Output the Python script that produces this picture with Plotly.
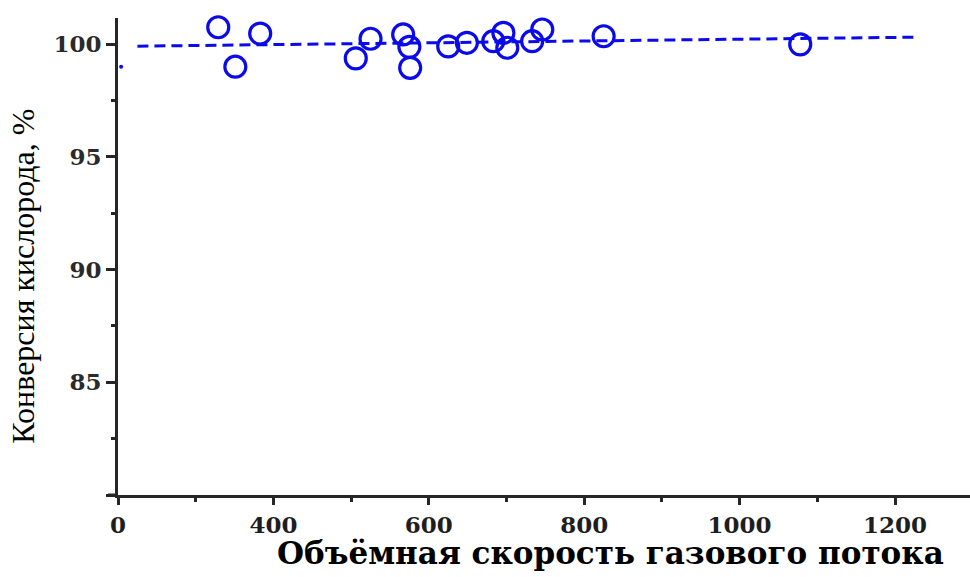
import plotly.graph_objects as go

# Measured oxygen conversion vs. gas hourly space velocity
flow_rate = [329, 351, 383, 506, 525, 567, 575, 576, 625, 649, 683, 696, 701, 733, 746, 825, 1078]
conversion = [100.75, 99.0, 100.47, 99.37, 100.24, 100.43, 99.88, 98.95, 99.9, 100.06,
              100.13, 100.5, 99.84, 100.13, 100.65, 100.35, 99.99]

# Linear trend through the data
fit_x = [225, 1226]
fit_y = [99.91, 100.31]

# Stray point sitting on the left axis
edge_x = [204]
edge_y = [99.0]

x_tick_vals = [200, 400, 600, 800, 1000, 1200]
x_tick_text = ["0", "400", "600", "800", "1000", "1200"]
x_minor_vals = [300, 500, 700, 900, 1100]
y_tick_vals = [80, 85, 90, 95, 100]
y_tick_text = ["", "85", "90", "95", "100"]
y_minor_vals = [82.5, 87.5, 92.5, 97.5]

blue = "#0a0aeb"
axis_col = "#262626"
wide_serif = '"DejaVu Serif", serif'
narrow_serif = '"Liberation Serif", serif'

fig = go.Figure()
fig.add_trace(go.Scatter(
    x=fit_x, y=fit_y, mode="lines",
    line=dict(color=blue, width=3, dash="11px,6px"),
    showlegend=False, hoverinfo="skip",
))
fig.add_trace(go.Scatter(
    x=edge_x, y=edge_y, mode="markers",
    marker=dict(color=blue, size=4),
    showlegend=False, cliponaxis=False,
))
fig.add_trace(go.Scatter(
    x=flow_rate, y=conversion, mode="markers",
    marker=dict(symbol="circle-open", size=21, color=blue, line=dict(color=blue, width=3.2)),
    showlegend=False, cliponaxis=False,
))

fig.update_layout(
    width=970, height=577,
    margin=dict(l=117.5, r=0, t=18, b=82),
    paper_bgcolor="white", plot_bgcolor="white",
    xaxis=dict(
        range=[200, 1296.5], showgrid=False, zeroline=False,
        showline=True, linecolor=axis_col, linewidth=3,
        tickmode="array", tickvals=x_tick_vals, ticktext=x_tick_text,
        ticks="outside", ticklen=7, tickwidth=3, tickcolor=axis_col,
        tickfont=dict(family=wide_serif, size=23, color="#1e1e1e", weight="bold"),
        minor=dict(tickvals=x_minor_vals, ticks="outside", ticklen=4, tickwidth=3, tickcolor=axis_col),
    ),
    yaxis=dict(
        range=[80, 101.16], showgrid=False, zeroline=False,
        showline=True, linecolor=axis_col, linewidth=3,
        tickmode="array", tickvals=y_tick_vals, ticktext=y_tick_text,
        ticks="outside", ticklen=9, tickwidth=3, tickcolor=axis_col,
        tickfont=dict(family=wide_serif, size=23, color="#2a2a2a", weight="bold"),
        minor=dict(tickvals=y_minor_vals, ticks="outside", ticklen=4, tickwidth=3, tickcolor=axis_col),
    ),
)

# Axis titles
fig.add_annotation(
    text="Объёмная скорость газового потока",
    xref="paper", yref="paper", x=0.578, y=-0.1216,
    xanchor="center", yanchor="middle", showarrow=False,
    font=dict(family=wide_serif, size=31, color="black", weight="bold"),
)
fig.add_annotation(
    text="Конверсия кислорода, %",
    xref="paper", yref="paper", x=-0.112, y=0.459, textangle=-90,
    xanchor="center", yanchor="middle", showarrow=False,
    font=dict(family=narrow_serif, size=32, color="black"),
)

# Short overhang of the horizontal axis to the left of the origin
fig.add_shape(type="line", xref="paper", yref="paper",
              x0=-0.0117, x1=0, y0=0, y1=0,
              line=dict(color=axis_col, width=3))

fig.write_html("out.html")
